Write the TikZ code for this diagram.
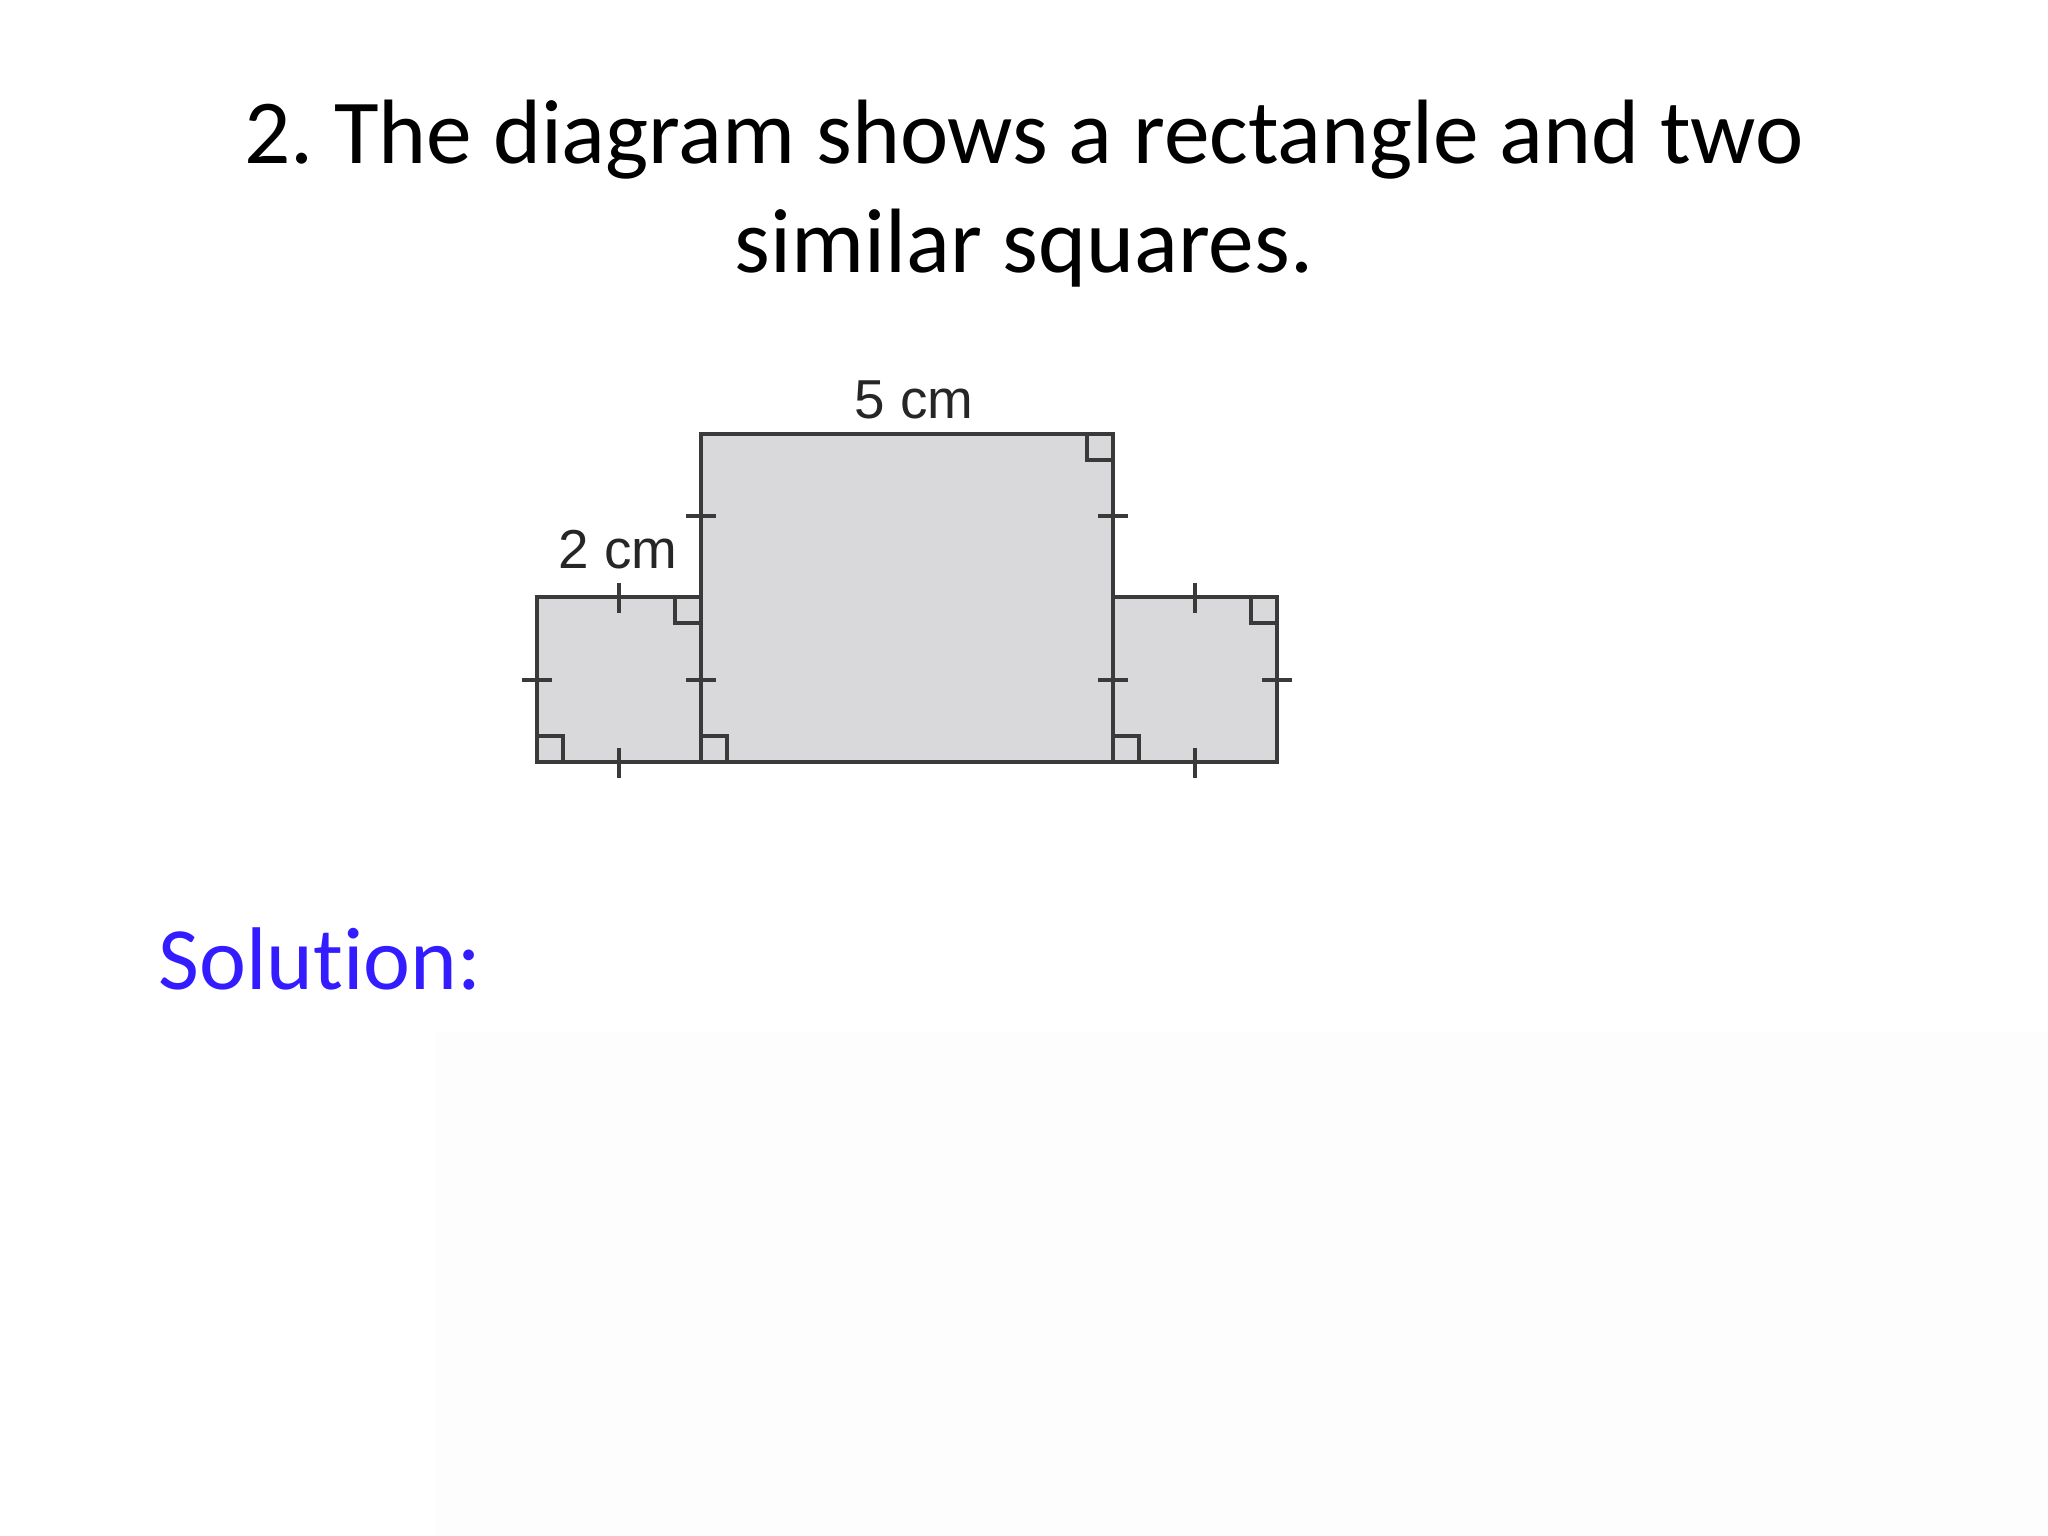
\documentclass[tikz,border=0pt]{standalone}
\usepackage{fontspec}
\setmainfont{Carlito}[RawFeature={-liga}]
\newfontfamily\labelfont{Liberation Sans}
\frenchspacing
\definecolor{edgec}{RGB}{58,58,58}
\definecolor{fillc}{RGB}{217,217,220}
\definecolor{solc}{RGB}{51,28,255}
\definecolor{faint}{RGB}{253,253,254}
\tikzset{
  shapeline/.style={draw=edgec, line width=1pt, fill=fillc},
  tickmark/.style={draw=edgec, line width=0.9pt},
  rightmark/.style={draw=edgec, line width=0.9pt},
  titletext/.style={anchor=base, font=\fontsize{26}{31}\selectfont, text=black, inner sep=0pt},
  soltext/.style={anchor=base west, font=\fontsize{25.3}{30}\selectfont, text=solc, inner sep=0pt},
  dimlabel/.style={anchor=base, font=\labelfont\fontsize{15.6}{18}\selectfont, text=black!85, inner sep=0pt}
}
\begin{document}
\begin{tikzpicture}[x=0.01cm, y=-0.01cm]
\useasboundingbox (0,0) rectangle (2048,1536);
\fill[white] (0,0) rectangle (2048,1536);
\fill[faint] (435,1032) rectangle (2048,1536);
% title
\node[titletext] (title1) at (1024,163) {2. The diagram shows a rectangle and two};
\node[titletext] (title2) at (1024,272) {similar squares.};
% shapes
\coordinate (LS1) at (537,597);
\coordinate (LS2) at (701,762);
\coordinate (BR1) at (701,434);
\coordinate (BR2) at (1113,762);
\coordinate (RS1) at (1113,597);
\coordinate (RS2) at (1277,762);
\path[shapeline] (LS1) rectangle (LS2);
\path[shapeline] (RS1) rectangle (RS2);
\path[shapeline] (BR1) rectangle (BR2);
% right-angle marks
\draw[rightmark] (675,597) -- (675,623) -- (701,623);
\draw[rightmark] (537,736) -- (563,736) -- (563,762);
\draw[rightmark] (701,736) -- (727,736) -- (727,762);
\draw[rightmark] (1087,434) -- (1087,460) -- (1113,460);
\draw[rightmark] (1113,736) -- (1139,736) -- (1139,762);
\draw[rightmark] (1251,597) -- (1251,623) -- (1277,623);
% tick marks
\draw[tickmark] (619,583) -- (619,613);
\draw[tickmark] (619,748) -- (619,778);
\draw[tickmark] (522,680) -- (552,680);
\draw[tickmark] (686,680) -- (716,680);
\draw[tickmark] (686,516) -- (716,516);
\draw[tickmark] (1098,516) -- (1128,516);
\draw[tickmark] (1098,680) -- (1128,680);
\draw[tickmark] (1195,583) -- (1195,613);
\draw[tickmark] (1195,748) -- (1195,778);
\draw[tickmark] (1262,680) -- (1292,680);
% labels
\node[dimlabel] (lab5) at (914,418) {5 cm};
\node[dimlabel] (lab2) at (618,568) {2 cm};
% solution
\node[soltext] (sol) at (158,989) {Solution:};
\end{tikzpicture}
\end{document}
